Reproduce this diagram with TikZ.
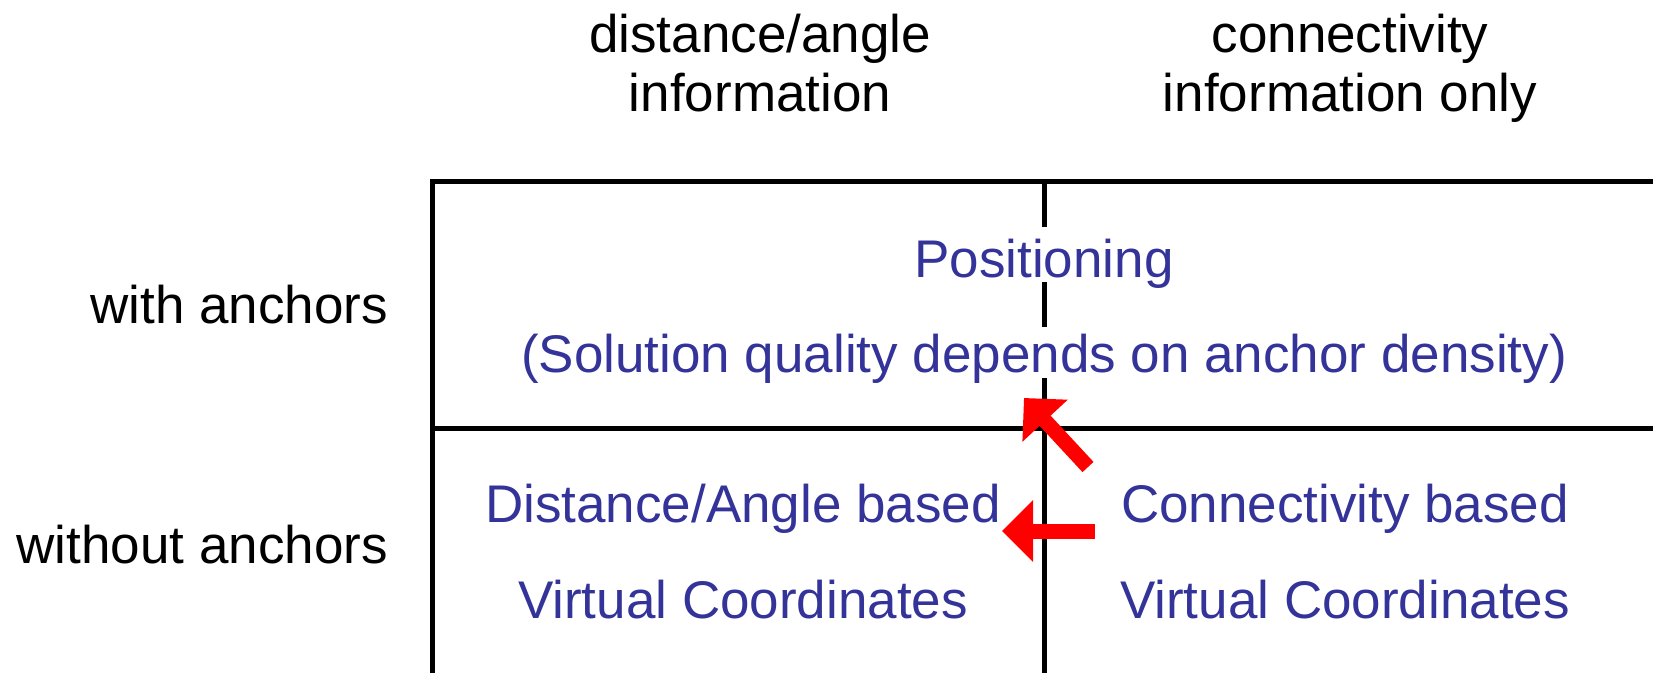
\documentclass[tikz,border=0pt]{standalone}
\usepackage{fontspec}
\setmainfont{Liberation Sans}
\usetikzlibrary{arrows.meta}
\definecolor{txtblue}{RGB}{51,51,153}
\tikzset{
  grid/.style={line width=5pt, draw=black},
  lbl/.style={font=\fontsize{53}{64}\selectfont, text=black, inner sep=0pt, anchor=base},
  cell/.style={font=\fontsize{53}{64}\selectfont, text=txtblue, inner sep=0pt, anchor=base},
  redarrow/.style={draw=red, line width=15pt, -{Triangle[length=31pt,width=60pt]}}
}
\begin{document}
\begin{tikzpicture}[x=1pt,y=-1pt]
\useasboundingbox (0,0) rectangle (1653,672);
% grid
\draw[grid] (1660,181) -- (432,181) -- (432,680);
\draw[grid] (432,428) -- (1660,428);
\draw[grid] (1044,181) -- (1044,680);
% headers
\node[lbl] (h1a) at (760,52) {distance/angle};
\node[lbl] (h1b) at (760,111) {information};
\node[lbl] (h2a) at (1350,52) {connectivity};
\node[lbl] (h2b) at (1350,111) {information only};
% row labels
\node[lbl, anchor=base east] (r1) at (388,323) {with anchors};
\node[lbl, anchor=base east] (r2) at (388,563) {without anchors};
% cells
\node[cell, fill=white, text height=50pt, text depth=5pt] (pos) at (1044,277) {Positioning};
\node[cell, fill=white, text height=45pt, text depth=6pt] (sol) at (1044,372) {(Solution quality depends on anchor density)};
\node[cell] (da1) at (743,522) {Distance/Angle based};
\node[cell] (da2) at (743,618) {Virtual Coordinates};
\node[cell] (cb1) at (1345,522) {Connectivity based};
\node[cell] (cb2) at (1345,618) {Virtual Coordinates};
% arrows
\coordinate (a1s) at (1088,467);
\coordinate (a1e) at (1024,398);
\coordinate (a2s) at (1095,531);
\coordinate (a2e) at (1002,531);
\draw[redarrow] (a1s) -- (a1e);
\draw[redarrow] (a2s) -- (a2e);
\end{tikzpicture}
\end{document}
